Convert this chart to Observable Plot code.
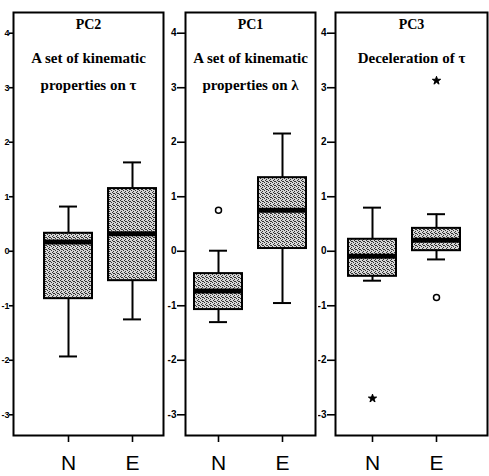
<!DOCTYPE html>
<html><head><meta charset="utf-8">
<script src="https://cdn.jsdelivr.net/npm/d3@7"></script>
<script src="https://cdn.jsdelivr.net/npm/@observablehq/plot@0.6"></script>
<style>
html,body{margin:0;padding:0;background:#fff;}
#chart{position:relative;width:489px;height:476px;overflow:hidden;background:#fff;}
#chart svg{position:absolute;top:0;}
#chart g[aria-label^="y-axis"] text{font-size:10px;font-weight:bold;font-family:"Liberation Sans",Arial,sans-serif;}
#chart svg.first g[aria-label^="y-axis"] text{font-size:9px;}
#chart g[aria-label^="x-axis"] text{font-size:21px;font-family:"Liberation Sans",Arial,sans-serif;}
#chart g[aria-label^="y-axis"] path,#chart g[aria-label^="y-axis"] line,
#chart g[aria-label^="x-axis"] path,#chart g[aria-label^="x-axis"] line{stroke-width:1.6px;}
</style>
</head><body>
<div id="chart"></div>
<script>
// ---- data ----
const panelNames = ["PC2", "PC1", "PC3"];
const panelSubtitleLine1 = ["A set of kinematic", "A set of kinematic", "Deceleration of τ"];
const panelSubtitleLine2 = ["properties on τ", "properties on λ", ""];
const groups = ["N", "E"];
const boxPanel = ["PC2", "PC2", "PC1", "PC1", "PC3", "PC3"];
const boxGroup = ["N", "E", "N", "E", "N", "E"];
const whiskerLow = [-1.93, -1.25, -1.30, -0.95, -0.54, -0.15];
const quartile1 = [-0.87, -0.54, -1.07, 0.05, -0.46, 0.01];
const medians = [0.17, 0.32, -0.73, 0.75, -0.09, 0.20];
const quartile3 = [0.33, 1.15, -0.41, 1.35, 0.22, 0.42];
const whiskerHigh = [0.82, 1.63, 0.01, 2.16, 0.80, 0.68];
const outlierPanel = ["PC1", "PC3"];
const outlierGroup = ["N", "E"];
const outlierValue = [0.75, -0.85];
const extremePanel = ["PC3", "PC3"];
const extremeGroup = ["N", "E"];
const extremeValue = [-2.70, 3.13];
const yTicks = [-3, -2, -1, 0, 1, 2, 3, 4];
const yDomain = [-3.38, 4.38];

// ---- layout ----
const layout = [
  {left: 0,   width: 168, marginLeft: 13, marginRight: 5, xRange: [43, 157], ySize: 4, yPad: 0, cls: "first"},
  {left: 165, width: 152, marginLeft: 20, marginRight: 2, xRange: [29, 142], ySize: 8, yPad: 1, cls: "mid"},
  {left: 318, width: 171, marginLeft: 17, marginRight: 2, xRange: [29, 143], ySize: 8, yPad: 1, cls: "last"}
];

const boxes = boxPanel.map((p, i) => ({panel: p, group: boxGroup[i], wl: whiskerLow[i], q1: quartile1[i], med: medians[i], q3: quartile3[i], wh: whiskerHigh[i]}));
const outliers = outlierPanel.map((p, i) => ({panel: p, group: outlierGroup[i], value: outlierValue[i]}));
const extremes = extremePanel.map((p, i) => ({panel: p, group: extremeGroup[i], value: extremeValue[i]}));

const chart = document.getElementById("chart");

function addPattern(svg, id) {
  const s = d3.select(svg);
  const defs = s.insert("defs", ":first-child");
  const p = defs.append("pattern").attr("id", id).attr("width", 4).attr("height", 4).attr("patternUnits", "userSpaceOnUse");
  p.append("rect").attr("width", 4).attr("height", 4).attr("fill", "#d6d6d6");
  [[0,0],[2,1],[1,3],[3,2],[1,1]].forEach(([x, y]) =>
    p.append("rect").attr("x", x).attr("y", y).attr("width", 1).attr("height", 1).attr("fill", "#333"));
}

panelNames.forEach((name, k) => {
  const L = layout[k];
  const bx = boxes.filter(d => d.panel === name);
  const ol = outliers.filter(d => d.panel === name);
  const ex = extremes.filter(d => d.panel === name);
  const pid = "stipple" + k;
  const titleFont = {fontFamily: "'Liberation Serif','Times New Roman',serif", fontWeight: "bold", fill: "black"};
  const marks = [
    Plot.frame({stroke: "black", strokeWidth: 2}),
    Plot.text([name], {...titleFont, frameAnchor: "top", lineAnchor: "middle", dy: 12, fontSize: 14}),
    Plot.text([panelSubtitleLine1[k]], {...titleFont, frameAnchor: "top", lineAnchor: "middle", dy: 46, fontSize: 15}),
    Plot.text([panelSubtitleLine2[k]], {...titleFont, frameAnchor: "top", lineAnchor: "middle", dy: 73, fontSize: 15}),
    Plot.ruleX(bx, {x: "group", y1: "q3", y2: "wh", stroke: "black", strokeWidth: 2}),
    Plot.ruleX(bx, {x: "group", y1: "wl", y2: "q1", stroke: "black", strokeWidth: 2}),
    Plot.tickY(bx, {x: "group", y: "wh", stroke: "black", strokeWidth: 2, insetLeft: 15, insetRight: 15}),
    Plot.tickY(bx, {x: "group", y: "wl", stroke: "black", strokeWidth: 2, insetLeft: 15, insetRight: 15}),
    Plot.barY(bx, {x: "group", y1: "q1", y2: "q3", fill: `url(#${pid})`, stroke: "black", strokeWidth: 2}),
    Plot.tickY(bx, {x: "group", y: "med", stroke: "black", strokeWidth: 5}),
    Plot.dot(ol, {x: "group", y: "value", r: 3, stroke: "black", strokeWidth: 1.5, fill: "white"}),
    Plot.dot(ex, {x: "group", y: "value", r: 2.6, symbol: "star", fill: "black", stroke: "black", strokeWidth: 1})
  ];
  const svg = Plot.plot({
    width: L.width,
    height: 476,
    marginTop: 12,
    marginBottom: 41,
    marginLeft: L.marginLeft,
    marginRight: L.marginRight,
    style: {background: "transparent", color: "black"},
    x: {type: "band", domain: groups, range: L.xRange, paddingInner: 0.246, paddingOuter: 0, label: null, tickSize: 7, tickPadding: 13},
    y: {domain: yDomain, ticks: yTicks, tickFormat: d => String(d), tickSize: L.ySize, tickPadding: L.yPad, label: null},
    marks
  });
  addPattern(svg, pid);
  svg.classList.add(L.cls);
  svg.style.left = L.left + "px";
  chart.appendChild(svg);
});
</script>
</body></html>
